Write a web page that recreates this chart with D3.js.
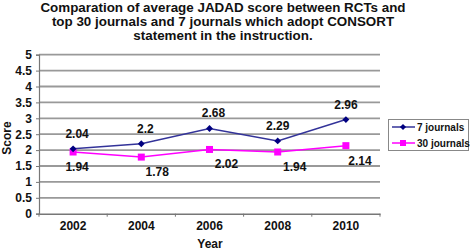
<!DOCTYPE html>
<html><head><meta charset="utf-8">
<script src="https://cdn.jsdelivr.net/npm/d3@7"></script>
<style>body{margin:0;background:#fff}svg{display:block;font-family:"Liberation Sans",Arial,sans-serif}</style>
</head><body><svg id="c" width="472" height="250"></svg>
<script>
const years = ["2002","2004","2006","2008","2010"];
const journals7 = [2.04, 2.2, 2.68, 2.29, 2.96];
const journals30 = [1.94, 1.78, 2.02, 1.94, 2.14];
const seriesNames = ["7 journals", "30 journals"];
const yTicks = [0,0.5,1,1.5,2,2.5,3,3.5,4,4.5,5];
const titleLines = ["Comparation of average JADAD score between RCTs and","top 30 journals and 7 journals which adopt CONSORT","statement in the instruction."];

const svg = d3.select("#c");
const L = 39, R = 380, T = 54.7, B = 213.7;
const x = d3.scaleBand().domain(years).range([L, R]).padding(0);
const y = d3.scaleLinear().domain([0,5]).range([B, T]);
const cx = d => x(d) + x.bandwidth()/2;

// title
svg.append("g").selectAll("text").data(titleLines).join("text")
  .attr("x", 223).attr("y", (d,i)=>11.5 + i*14)
  .attr("text-anchor","middle").attr("font-size",13.4).attr("font-weight","bold").attr("fill","#111")
  .text(d=>d);

// gridlines
svg.append("g").selectAll("line").data(yTicks.filter(t=>t>0)).join("line")
  .attr("x1",L).attr("x2",R).attr("y1",d=>y(d)).attr("y2",d=>y(d))
  .attr("stroke","#999").attr("stroke-width",1.8);

// y axis
const ya = svg.append("g").attr("transform",`translate(${L},0)`)
  .call(d3.axisLeft(y).tickValues(yTicks).tickSize(3).tickFormat(d=>String(d)));
ya.select(".domain").attr("stroke","#777").attr("stroke-width",1.2);
ya.selectAll(".tick line").attr("stroke","#777");
ya.selectAll("text").attr("font-size",12).attr("font-weight","bold").attr("fill","#111")
  .attr("font-family","Liberation Sans, Arial, sans-serif").attr("dx",-1);

// x axis
const xa = svg.append("g").attr("transform",`translate(0,${B})`)
  .call(d3.axisBottom(x).tickSize(0));
xa.select(".domain").attr("stroke","#777").attr("stroke-width",1.4);
xa.selectAll("text").attr("font-size",12).attr("font-weight","bold").attr("fill","#111")
  .attr("font-family","Liberation Sans, Arial, sans-serif").attr("dy","1.15em");
// tick marks at category boundaries
const bounds = years.map(d=>x(d)).concat([R]);
svg.append("g").selectAll("line").data(bounds).join("line")
  .attr("x1",d=>d).attr("x2",d=>d).attr("y1",B).attr("y2",B+3)
  .attr("stroke","#777").attr("stroke-width",1);

// axis titles
svg.append("text").attr("transform","translate(11,138) rotate(-90)")
  .attr("text-anchor","middle").attr("font-size",12).attr("font-weight","bold").attr("fill","#111").text("Score");
svg.append("text").attr("x",210).attr("y",248).attr("text-anchor","middle")
  .attr("font-size",12).attr("font-weight","bold").attr("fill","#111").text("Year");

const line = d3.line().x((d,i)=>cx(years[i])).y(d=>y(d));

// 30 journals
svg.append("path").datum(journals30).attr("d",line).attr("fill","none").attr("stroke","#ff00ff").attr("stroke-width",1.5);
svg.append("g").selectAll("rect").data(journals30).join("rect")
  .attr("x",(d,i)=>cx(years[i])-3.5).attr("y",d=>y(d)-3.5).attr("width",7).attr("height",7).attr("fill","#ff00ff");

// 7 journals
svg.append("path").datum(journals7).attr("d",line).attr("fill","none").attr("stroke","#333399").attr("stroke-width",1.5);
const diamond = d3.symbol().type(d3.symbolDiamond2).size(30);
svg.append("g").selectAll("path").data(journals7).join("path")
  .attr("transform",(d,i)=>`translate(${cx(years[i])},${y(d)})`).attr("d",diamond).attr("fill","#000080");

// data labels
const dx7 = [4,4,4,0,0], dx30 = [4,16,17,17,14];
svg.append("g").selectAll("text").data(journals7).join("text")
  .attr("x",(d,i)=>cx(years[i])+dx7[i]).attr("y",d=>y(d)-11)
  .attr("text-anchor","middle").attr("font-size",12).attr("font-weight","bold").attr("fill","#111")
  .text(d=>String(d));
svg.append("g").selectAll("text").data(journals30).join("text")
  .attr("x",(d,i)=>cx(years[i])+dx30[i]).attr("y",d=>y(d)+19)
  .attr("text-anchor","middle").attr("font-size",12).attr("font-weight","bold").attr("fill","#111")
  .text(d=>String(d));

// legend
const lg = svg.append("g");
lg.append("rect").attr("x",388.5).attr("y",119.5).attr("width",80).attr("height",31)
  .attr("fill","#fff").attr("stroke","#888").attr("stroke-width",1);
const rows = [{name:seriesNames[0],c:"#333399",m:"d"},{name:seriesNames[1],c:"#ff00ff",m:"s"}];
rows.forEach((r,i)=>{
  const yy = 127 + i*16;
  lg.append("line").attr("x1",392).attr("x2",415).attr("y1",yy).attr("y2",yy).attr("stroke",r.c).attr("stroke-width",1.5);
  if(r.m==="d") lg.append("path").attr("transform",`translate(403,${yy})`).attr("d",d3.symbol().type(d3.symbolDiamond2).size(24)).attr("fill","#000080");
  else lg.append("rect").attr("x",400).attr("y",yy-3).attr("width",6).attr("height",6).attr("fill","#ff00ff");
  lg.append("text").attr("x",417).attr("y",yy+3.5).attr("font-size",10).attr("font-weight","bold").attr("fill","#111").text(r.name);
});
</script></body></html>
